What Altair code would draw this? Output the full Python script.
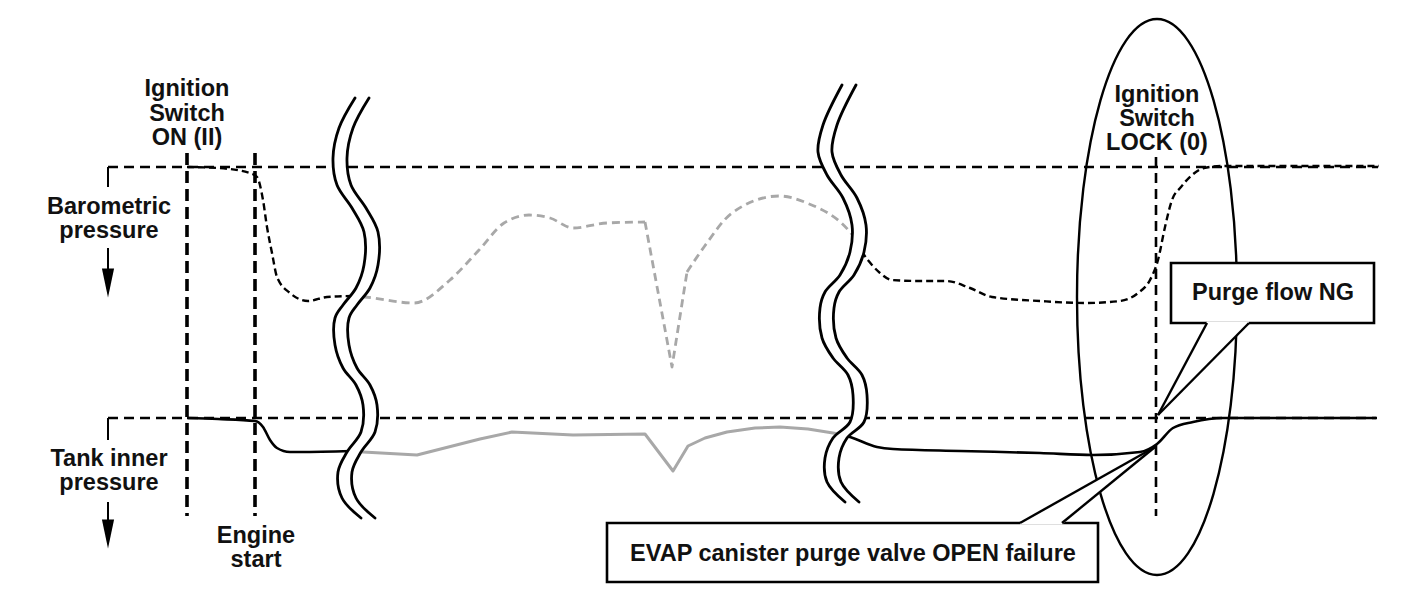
import altair as alt
import pandas as pd

# ---------------- frame (diagram units = page pixels) ----------------
W, H = 1385, 600
X_DOM = [8, 1393]
Y_DOM = [8, 608]
FONT = "Liberation Sans"
INK = "#000000"
GREY = "#a8a8a8"

# ---------------- reference levels / markers ----------------
level_x0 = [108, 108]
level_x1 = [1378, 1376]
level_y = [167, 418]

tick_x = [108, 108]
tick_y0 = [167, 418]
tick_y1 = [187, 440]

arrow_x = [108, 108]
arrow_y0 = [248, 502]
arrow_y1 = [272, 524]
arrow_head_y = [283, 534]

event_x = [187, 255]
event_y0 = [153, 153]
event_y1 = [516, 516]

lock_x = [1156]
lock_y0 = [157]
lock_y1 = [516]

# ---------------- barometric pressure trace ----------------
baro_a_x = [187, 218, 250, 257, 263, 267, 272, 277, 290, 308, 327, 352]
baro_a_y = [167, 168, 173, 177, 200, 227, 253, 277, 293, 301, 297, 296]
# grey (time-compressed) part: smooth rise, sharp dip, smooth recovery
baro_g1_x = [350, 364, 414, 450, 479, 504, 529, 550, 573, 607, 645]
baro_g1_y = [296, 297, 303, 280, 250, 223, 215, 218, 228, 223, 222]
baro_g2_x = [645, 672, 687]
baro_g2_y = [222, 367, 272]
baro_g3_x = [687, 704, 732, 779, 807, 850, 857]
baro_g3_y = [272, 247, 213, 196, 203, 232, 241]
baro_b_x = [857, 863, 872, 880, 892, 920, 946, 970, 992, 1040, 1085, 1120, 1138, 1150, 1158, 1165, 1172, 1181, 1192, 1204, 1223, 1379]
baro_b_y = [241, 253, 265, 273, 280, 281, 281, 288, 297, 301, 303, 301, 293, 280, 260, 227, 200, 187, 175, 168, 166, 166]

# ---------------- tank inner pressure trace ----------------
tank_a_x = [187, 218, 255, 263, 270, 277, 290, 300, 352]
tank_a_y = [418, 419, 421, 427, 440, 448, 452, 452, 451]
tank_g_x = [350, 363, 417, 480, 512, 573, 645, 673, 688, 705, 727, 755, 780, 808, 833, 843]
tank_g_y = [451, 452, 455, 439, 432, 435, 434, 471, 446, 438, 432, 428, 427, 429, 433, 435]
tank_b_x = [843, 850, 877, 893, 960, 1040, 1093, 1140, 1157, 1173, 1193, 1223, 1377]
tank_b_y = [435, 437, 447, 449, 451, 453, 455, 452, 444, 428, 422, 418, 418]

# ---------------- time-break symbols ----------------
wave1_y = [98, 128, 158, 185, 208, 232, 265, 288, 305, 318, 345, 368, 385, 405, 432, 452, 472, 498, 518]
wave1_x = [355, 339, 333, 337, 352, 364, 364, 356, 343, 335, 335, 343, 356, 363, 361, 347, 338, 342, 361]
wave2_y = [85, 125, 152, 175, 198, 225, 252, 275, 292, 308, 338, 358, 375, 395, 422, 438, 458, 482, 502]
wave2_x = [842, 823, 818, 827, 843, 852, 850, 840, 825, 820, 822, 833, 848, 853, 850, 833, 825, 827, 845]
WAVE_GAP = 14

# ---------------- highlight ellipse ----------------
ell_cx, ell_cy, ell_rx, ell_ry = 1157, 297, 80, 278

# ---------------- callouts ----------------
box_x0 = [1171, 607]
box_x1 = [1374, 1098]
box_y0 = [263, 523]
box_y1 = [323, 582]
ptr_base_l = [(1207, 323), (1020, 523)]
ptr_base_r = [(1249, 323), (1062, 523)]
ptr_tip = [(1158, 415), (1155, 447)]

# ---------------- labels ----------------
label_text = ["Ignition", "Switch", "ON (II)",
              "Ignition", "Switch", "LOCK (0)",
              "Barometric", "pressure",
              "Tank inner", "pressure",
              "Engine", "start",
              "Purge flow NG",
              "EVAP canister purge valve OPEN failure"]
label_x = [187, 187, 187, 1157, 1157, 1157, 109, 109, 109, 109, 256, 256, 1273, 853]
label_y = [96, 121, 145, 102, 126, 150, 214, 238, 466, 490, 543, 567, 300, 561]

# ======================================================================
XS = alt.Scale(domain=X_DOM, nice=False, zero=False)
YS = alt.Scale(domain=Y_DOM, nice=False, zero=False, reverse=True)


def X(f):
    return alt.X(f, type="quantitative", scale=XS, axis=None)


def Y(f):
    return alt.Y(f, type="quantitative", scale=YS, axis=None)


def poly(xs, ys):
    return pd.DataFrame({"x": xs, "y": ys, "i": list(range(len(xs)))})


def trace(xs, ys, color, width, dash=None, interp="linear"):
    kw = dict(color=color, strokeWidth=width, interpolate=interp, strokeCap="butt", strokeJoin="round")
    if dash:
        kw["strokeDash"] = dash
    return alt.Chart(poly(xs, ys)).mark_line(**kw).encode(x=X("x"), y=Y("y"), order="i:Q")


def rules(x0, x1, y0, y1, width, dash=None, color=INK):
    df = pd.DataFrame({"x0": x0, "x1": x1, "y0": y0, "y1": y1})
    kw = dict(color=color, strokeWidth=width, strokeCap="butt")
    if dash:
        kw["strokeDash"] = dash
    return alt.Chart(df).mark_rule(**kw).encode(x=X("x0"), x2="x1", y=Y("y0"), y2="y1")


layers = []
# levels & ticks
layers.append(rules(level_x0, level_x1, level_y, level_y, 2.6, [10, 6]))
layers.append(rules(tick_x, tick_x, tick_y0, tick_y1, 2))
# arrows
layers.append(rules(arrow_x, arrow_x, arrow_y0, arrow_y1, 2))
layers.append(
    alt.Chart(pd.DataFrame({"x": arrow_x, "y": arrow_head_y}))
    .mark_point(shape="M-0.42,-1L0.42,-1L0,1Z", filled=True, color=INK, opacity=1, size=841)
    .encode(x=X("x"), y=Y("y"))
)
# event markers
layers.append(rules(event_x, event_x, event_y0, event_y1, 3.6, [12, 6]))
layers.append(rules(lock_x, lock_x, lock_y0, lock_y1, 2.6, [10, 6]))

# traces
layers.append(trace(baro_g1_x, baro_g1_y, GREY, 2.8, [8, 5], "monotone"))
layers.append(trace(baro_g2_x, baro_g2_y, GREY, 2.8, [8, 5]))
layers.append(trace(baro_g3_x, baro_g3_y, GREY, 2.8, [8, 5], "monotone"))
layers.append(trace(baro_a_x, baro_a_y, INK, 2.4, [7, 4], "monotone"))
layers.append(trace(baro_b_x, baro_b_y, INK, 2.4, [7, 4], "monotone"))
layers.append(trace(tank_g_x, tank_g_y, GREY, 3))
layers.append(trace(tank_a_x, tank_a_y, INK, 2.6, None, "monotone"))
layers.append(trace(tank_b_x, tank_b_y, INK, 2.6, None, "monotone"))

# time breaks
for wy, wx in [(wave1_y, wave1_x), (wave2_y, wave2_x)]:
    band = pd.DataFrame({"y": wy, "xl": wx, "xr": [v + WAVE_GAP for v in wx]})
    layers.append(
        alt.Chart(band).mark_area(orient="horizontal", color="white", opacity=1, interpolate="catmull-rom")
        .encode(y=Y("y"), x=X("xl"), x2="xr")
    )
    edges = pd.DataFrame({
        "x": wx + [v + WAVE_GAP for v in wx],
        "y": wy + wy,
        "side": ["l"] * len(wx) + ["r"] * len(wx),
        "i": list(range(len(wx))) * 2,
    })
    layers.append(
        alt.Chart(edges).mark_line(color=INK, strokeWidth=2.8, interpolate="catmull-rom", strokeCap="round")
        .encode(x=X("x"), y=Y("y"), detail="side:N", order="i:Q")
    )

# ellipse (unit path scaled by symbol size)
a = ell_rx / ell_ry
k = 0.5523
ka = k * a
ell_path = (f"M0,-1C{ka:.4f},-1 {a:.4f},-{k} {a:.4f},0C{a:.4f},{k} {ka:.4f},1 0,1"
            f"C-{ka:.4f},1 -{a:.4f},{k} -{a:.4f},0C-{a:.4f},-{k} -{ka:.4f},-1 0,-1Z")
layers.append(
    alt.Chart(pd.DataFrame({"x": [ell_cx], "y": [ell_cy]}))
    .mark_point(shape=ell_path, filled=False, stroke=INK, strokeWidth=2.4, opacity=1, size=(2 * ell_ry) ** 2)
    .encode(x=X("x"), y=Y("y"))
)

# callout boxes
layers.append(
    alt.Chart(pd.DataFrame({"x0": box_x0, "x1": box_x1, "y0": box_y0, "y1": box_y1}))
    .mark_rect(fill="white", stroke=INK, strokeWidth=2.6)
    .encode(x=X("x0"), x2="x1", y=Y("y0"), y2="y1")
)

# callout pointers: white fill then outline
rows = []
for p, (bl, br, tp) in enumerate(zip(ptr_base_l, ptr_base_r, ptr_tip)):
    if tp[1] > bl[1]:  # pointer goes down from box bottom
        ymid_r = tp[1] + (br[1] - tp[1]) * (bl[0] - tp[0]) / (br[0] - tp[0])
        rows += [dict(p=p, x=tp[0], y=tp[1], y2=tp[1]),
                 dict(p=p, x=bl[0], y=bl[1] - 1.6, y2=ymid_r),
                 dict(p=p, x=br[0], y=br[1] - 1.6, y2=br[1])]
    else:  # pointer goes up from box top
        ymid_l = bl[1] + (tp[1] - bl[1]) * (br[0] - bl[0]) / (tp[0] - bl[0])
        rows += [dict(p=p, x=bl[0], y=bl[1], y2=bl[1] + 1.6),
                 dict(p=p, x=br[0], y=ymid_l, y2=br[1] + 1.6),
                 dict(p=p, x=tp[0], y=tp[1], y2=tp[1])]
layers.append(
    alt.Chart(pd.DataFrame(rows)).mark_area(color="white", opacity=1, orient="vertical")
    .encode(x=X("x"), y=Y("y"), y2="y2", detail="p:N")
)
ex0, ex1, ey0, ey1 = [], [], [], []
for bl, br, tp in zip(ptr_base_l, ptr_base_r, ptr_tip):
    for b in (bl, br):
        ex0.append(b[0]); ey0.append(b[1]); ex1.append(tp[0]); ey1.append(tp[1])
layers.append(rules(ex0, ex1, ey0, ey1, 2.4))

# labels
layers.append(
    alt.Chart(pd.DataFrame({"t": label_text, "x": label_x, "y": label_y}))
    .mark_text(font=FONT, fontWeight="bold", fontSize=23.5, align="center", baseline="alphabetic", color="#111111")
    .encode(x=X("x"), y=Y("y"), text="t:N")
)

chart = (
    alt.layer(*layers)
    .properties(width=W, height=H, padding=0, autosize=alt.AutoSizeParams(type="none"), background="white")
    .configure_view(stroke=None)
)

chart.save("out.html", embed_options={"renderer": "svg", "actions": False})
